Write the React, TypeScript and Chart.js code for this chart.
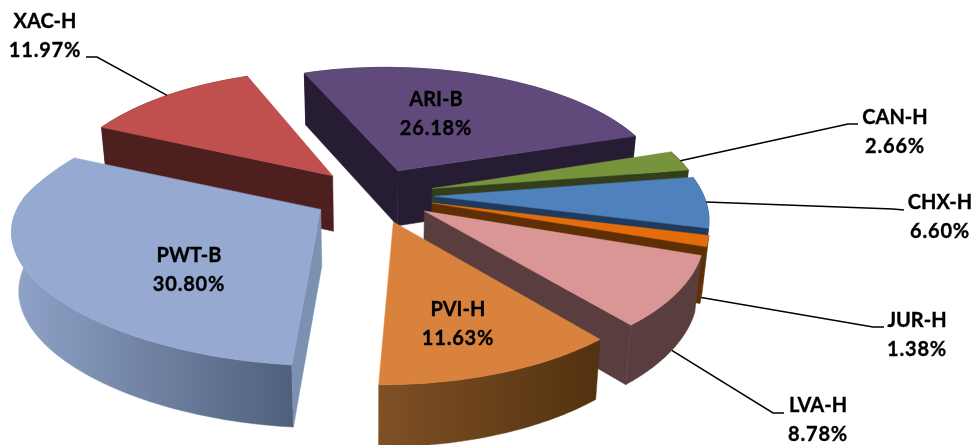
import React, { useEffect, useRef } from "react";
import { Chart, registerables } from "chart.js";

Chart.register(...registerables);

const categories = ["ARI-B", "CAN-H", "CHX-H", "JUR-H", "LVA-H", "PVI-H", "PWT-B", "XAC-H"];
const shares = [26.18, 2.66, 6.6, 1.38, 8.78, 11.63, 30.8, 11.97];
const shareLabels = ["26.18%", "2.66%", "6.60%", "1.38%", "8.78%", "11.63%", "30.80%", "11.97%"];
const topColors = ["#604a7b", "#77933c", "#4f81bd", "#e46c0a", "#d99694", "#d9823d", "#95a9d1", "#c0504d"];
const wallFrom = ["#261d35", "#333f1c", "#1f3a5a", "#5e2f05", "#5a3d3e", "#7f5026", "#8fa4c9", "#4e1f1f"];
const wallTo = ["#261d35", "#333f1c", "#1f3a5a", "#5e2f05", "#5a3d3e", "#52320f", "#4f607c", "#4e1f1f"];
const radialColors = ["#261d35", "#333f1c", "#1f3a5a", "#5e2f05", "#5a3d3e", "#6a4a2a", "#7c90b1", "#4e1f1f"];

const labelX = [436, 895, 940, 917, 818, 458, 189, 45];
const labelY = [100, 118, 203, 321, 406, 310, 256, 22];
const leaderEnd: (number[] | null)[] = [null, [858, 124], [904, 210], [884, 327], [784, 413], null, null, [86, 57]];
const leaderElbow: (number[] | null)[] = [null, [848, 124], [893, 209], [873, 327], [773, 413], null, null, [97, 57]];
const leaderDrop = [0, 0, 0, 1, 1, 0, 0, 0];

const scene = {
  cx: 374, cy: 195, rx: 283, squash: 0.45, perspY: 0.16, perspX: 0.036,
  backNarrow: 0.1, frontLeftLift: 15, depth: 56, bottomScale: 0.98,
};
const explodeOffset = 134;

function project(X: number, Y: number, z: number) {
  const s = 1 / (1 - scene.perspY * Y + scene.perspX * X);
  const b = 1 + (scene.bottomScale - 1) * z;
  const narrow = X < 0 ? 1 + scene.backNarrow * Math.max(Math.min(Y, 0), -0.5) : 1;
  const lift = scene.frontLeftLift * Math.min(X, 0) * Math.max(Y, 0);
  return {
    x: scene.cx + X * scene.rx * s * b * narrow,
    y: scene.cy + Y * scene.rx * scene.squash * s + z * scene.depth * Math.sqrt(s) + lift,
  };
}

const pie3d = {
  id: "pie3d",
  beforeDatasetDraw(chart: any) {
    const ctx: CanvasRenderingContext2D = chart.ctx;
    const meta = chart.getDatasetMeta(0);
    const slices = meta.data.map((arc: any, i: number) => {
      const p = arc.getProps(["startAngle", "endAngle", "outerRadius"], true);
      const R = p.outerRadius;
      const mid = (p.startAngle + p.endAngle) / 2;
      const off = (arc.options.offset || 0) / 4 / R;
      const ax = Math.cos(mid) * off;
      const ay = Math.sin(mid) * off;
      const n = 48;
      const rim: number[][] = [];
      for (let k = 0; k <= n; k++) {
        const t = p.startAngle + ((p.endAngle - p.startAngle) * k) / n;
        rim.push([ax + Math.cos(t), ay + Math.sin(t)]);
      }
      return { i, ax, ay, rim, mid, sortY: Math.sin(mid) };
    });
    const path = (pts: { x: number; y: number }[], fill: any) => {
      ctx.beginPath();
      pts.forEach((q, j) => (j ? ctx.lineTo(q.x, q.y) : ctx.moveTo(q.x, q.y)));
      ctx.closePath();
      ctx.fillStyle = fill;
      ctx.strokeStyle = fill;
      ctx.lineWidth = 0.5;
      ctx.fill();
      ctx.stroke();
    };
    const area = (pts: { x: number; y: number }[]) => {
      let a = 0;
      pts.forEach((q, j) => {
        const r = pts[(j + 1) % pts.length];
        a += q.x * r.y - r.x * q.y;
      });
      return a / 2;
    };
    ctx.save();
    [...slices].sort((a, b) => a.sortY - b.sortY).forEach((s: any) => {
      const topRim = s.rim.map((q: number[]) => project(q[0], q[1], 0));
      const botRim = s.rim.map((q: number[]) => project(q[0], q[1], 1));
      const xs = topRim.map((q: any) => q.x);
      const grad = ctx.createLinearGradient(Math.min(...xs), 0, Math.max(...xs), 0);
      grad.addColorStop(0, wallFrom[s.i]);
      grad.addColorStop(1, wallTo[s.i]);
      path([...topRim, ...[...botRim].reverse()], grad);
      const a0 = project(s.ax, s.ay, 0);
      const a1 = project(s.ax, s.ay, 1);
      const first = [a0, topRim[0], botRim[0], a1];
      const last = [a0, a1, botRim[botRim.length - 1], topRim[topRim.length - 1]];
      if (area(first) < 0) path(first, radialColors[s.i]);
      if (area(last) < 0) path(last, radialColors[s.i]);
      path([a0, ...topRim], topColors[s.i]);
    });
    // leader lines
    ctx.strokeStyle = "#000";
    ctx.lineWidth = 1.5;
    slices.forEach((s: any) => {
      const end = leaderEnd[s.i];
      const elbow = leaderElbow[s.i];
      if (!end || !elbow) return;
      const q = s.rim[24];
      const st = project(q[0], q[1], leaderDrop[s.i]);
      ctx.beginPath();
      ctx.moveTo(st.x, st.y);
      ctx.lineTo(elbow[0], elbow[1]);
      ctx.lineTo(end[0], end[1]);
      ctx.stroke();
    });
    // labels
    ctx.fillStyle = "#000";
    ctx.strokeStyle = "#000";
    ctx.lineWidth = 0.35;
    ctx.font = "bold 20px Lato";
    ctx.textAlign = "center";
    ctx.textBaseline = "middle";
    categories.forEach((c, i) => {
      (ctx as any).letterSpacing = "0px";
      ctx.fillText(c, labelX[i], labelY[i]);
      ctx.strokeText(c, labelX[i], labelY[i]);
      (ctx as any).letterSpacing = "0.8px";
      ctx.fillText(shareLabels[i], labelX[i], labelY[i] + 28.5);
      ctx.strokeText(shareLabels[i], labelX[i], labelY[i] + 28.5);
    });
    ctx.restore();
    return false;
  },
};

export default function App() {
  const ref = useRef<HTMLCanvasElement>(null);
  useEffect(() => {
    document.body.style.margin = "0";
    document.body.style.background = "#fff";
    const chart = new Chart(ref.current!, {
      type: "pie",
      data: {
        labels: categories,
        datasets: [
          {
            data: shares,
            backgroundColor: topColors,
            borderWidth: 0,
            offset: explodeOffset,
          },
        ],
      },
      options: {
        responsive: false,
        animation: false,
        rotation: -23,
        layout: { padding: 0 },
        plugins: { legend: { display: false }, tooltip: { enabled: false } },
      },
      plugins: [pie3d],
    } as any);
    return () => chart.destroy();
  }, []);
  return <canvas ref={ref} width={972} height={445} style={{ display: "block" }} />;
}
